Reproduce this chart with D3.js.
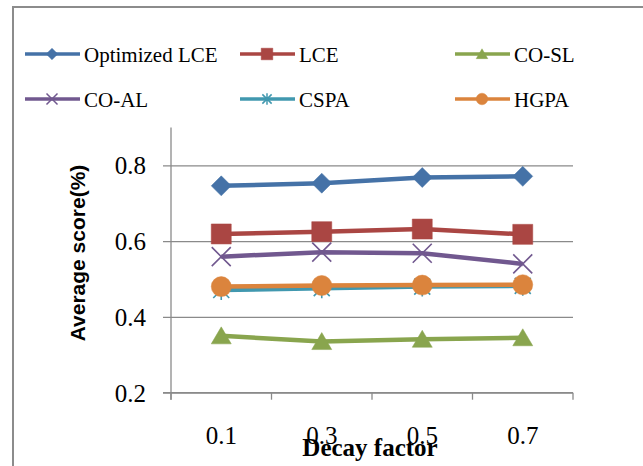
<!DOCTYPE html>
<html>
<head>
<meta charset="utf-8">
<script src="https://cdn.jsdelivr.net/npm/d3@7"></script>
<style>
  html, body { margin: 0; padding: 0; background: #fff; }
  svg { display: block; }
</style>
</head>
<body>
<svg id="chart" width="643" height="466"></svg>
<script>
// Decay factor categories and average score per method
const categories = ["0.1", "0.3", "0.5", "0.7"];
const optimizedLCE = [0.746, 0.753, 0.768, 0.771];
const lce = [0.619, 0.625, 0.632, 0.618];
const coSL = [0.350, 0.335, 0.341, 0.345];
const coAL = [0.559, 0.571, 0.568, 0.540];
const cspa = [0.471, 0.476, 0.480, 0.482];
const hgpa = [0.480, 0.483, 0.484, 0.485];
const yTicks = [0.2, 0.4, 0.6, 0.8];

const series = [
  { name: "Optimized LCE", values: optimizedLCE, color: "#4572A7", marker: "diamond" },
  { name: "LCE", values: lce, color: "#AA4643", marker: "square" },
  { name: "CO-SL", values: coSL, color: "#89A54E", marker: "triangle" },
  { name: "CO-AL", values: coAL, color: "#71588F", marker: "x" },
  { name: "CSPA", values: cspa, color: "#4198AF", marker: "asterisk" },
  { name: "HGPA", values: hgpa, color: "#DB843D", marker: "circle" }
];

const svg = d3.select("#chart");
const gridColor = "#8a8a8a";

// frame of the chart area
svg.append("path")
  .attr("d", "M13,466 L13,7 L643,7")
  .attr("fill", "none")
  .attr("stroke", "#8c8c8c")
  .attr("stroke-width", 2);

const plot = { left: 171, right: 573, top: 127.5, bottom: 392.7 };

const x = d3.scaleBand().domain(categories).range([plot.left, plot.right]).padding(0);
const y = d3.scaleLinear().domain([0.2, 0.9]).range([plot.bottom, plot.top]);
const cx = d => x(d) + x.bandwidth() / 2;

// horizontal gridlines + y axis
const yAxis = d3.axisLeft(y).tickValues(yTicks).tickFormat(d3.format(".1f"))
  .tickSize(-(plot.right - plot.left)).tickSizeOuter(0).tickPadding(25);
const gy = svg.append("g").attr("transform", `translate(${plot.left},0)`).call(yAxis);
gy.select(".domain").remove();
gy.selectAll(".tick line")
  .attr("x1", -8)
  .attr("stroke", gridColor).attr("stroke-width", 1.3);
gy.selectAll(".tick text")
  .attr("font-family", "'Liberation Serif', 'Times New Roman', serif")
  .attr("font-size", 25).attr("fill", "#000").attr("dy", "0.34em");

// vertical axis line
svg.append("line")
  .attr("x1", plot.left).attr("x2", plot.left)
  .attr("y1", y(0.9)).attr("y2", y(0.2) + 7)
  .attr("stroke", gridColor).attr("stroke-width", 1.3);

// x axis: labels centered in each band, ticks on band edges
const xAxis = d3.axisBottom(x).tickSize(0).tickSizeOuter(0).tickPadding(34);
const gx = svg.append("g").attr("transform", `translate(0,${plot.bottom})`).call(xAxis);
gx.select(".domain").remove();
gx.selectAll(".tick text")
  .attr("font-family", "'Liberation Serif', 'Times New Roman', serif")
  .attr("font-size", 25).attr("fill", "#000");

svg.append("line")
  .attr("x1", plot.left - 8).attr("x2", plot.right)
  .attr("y1", plot.bottom).attr("y2", plot.bottom)
  .attr("stroke", gridColor).attr("stroke-width", 1.3);

const edges = categories.map(d => x(d)).concat([x.range()[1]]);
svg.append("g").selectAll("line").data(edges).join("line")
  .attr("x1", d => d).attr("x2", d => d)
  .attr("y1", plot.bottom).attr("y2", plot.bottom + 7)
  .attr("stroke", gridColor).attr("stroke-width", 1.3);

// axis titles
svg.append("text")
  .attr("transform", `translate(85,${(163 + 343) / 2}) rotate(-90)`)
  .attr("text-anchor", "middle")
  .attr("font-family", "'Liberation Sans', Arial, sans-serif")
  .attr("font-weight", "bold").attr("font-size", 21)
  .text("Average score(%)");

svg.append("text")
  .attr("x", 370).attr("y", 456)
  .attr("text-anchor", "middle")
  .attr("font-family", "'Liberation Serif', 'Times New Roman', serif")
  .attr("font-weight", "bold").attr("font-size", 25)
  .text("Decay factor");

// marker shapes
function markerPath(type) {
  switch (type) {
    case "diamond": return "M0,-10 L10,0 L0,10 L-10,0 Z";
    case "square": return "M-10,-10 H10 V10 H-10 Z";
    case "triangle": return "M0,-9 L10,8 L-10,8 Z";
    case "circle": return "M10,0 A10,10 0 1,1 -10,0 A10,10 0 1,1 10,0 Z";
    case "x": return "M-9.5,-9.5 L9.5,9.5 M-9.5,9.5 L9.5,-9.5";
    case "asterisk": return "M-8,-8 L8,8 M-8,8 L8,-8 M0,-10 V10";
  }
}
function drawMarker(g, type, color, strokeScale) {
  const open = type === "x" || type === "asterisk";
  g.append("path")
    .attr("d", markerPath(type))
    .attr("fill", open ? "none" : color)
    .attr("stroke", color)
    .attr("stroke-width", (open ? 1.6 : 0.5) * (strokeScale || 1))
    .attr("stroke-linejoin", "round");
}

// series lines and markers
const line = d3.line().x((v, i) => cx(categories[i])).y(v => y(v));
series.forEach(s => {
  const g = svg.append("g");
  g.append("path")
    .attr("d", line(s.values))
    .attr("fill", "none")
    .attr("stroke", s.color)
    .attr("stroke-width", 4.5)
    .attr("stroke-linejoin", "round");
  s.values.forEach((v, i) => {
    const m = g.append("g").attr("transform", `translate(${cx(categories[i])},${y(v)})`);
    drawMarker(m, s.marker, s.color);
  });
});

// legend
const legendCols = [25, 240, 455];
const legendRows = [54, 99];
series.forEach((s, i) => {
  const lx = legendCols[i % 3];
  const ly = legendRows[Math.floor(i / 3)];
  const g = svg.append("g").attr("transform", `translate(${lx},${ly})`);
  g.append("line").attr("x1", 0).attr("x2", 55).attr("y1", 0).attr("y2", 0)
    .attr("stroke", s.color).attr("stroke-width", 3.5);
  const m = g.append("g").attr("transform", "translate(27,0) scale(0.58)");
  drawMarker(m, s.marker, s.color, 1.6);
  g.append("text")
    .attr("x", 59).attr("y", 7.5)
    .attr("font-family", "'Liberation Serif', 'Times New Roman', serif")
    .attr("font-size", 21)
    .text(s.name);
});
</script>
</body>
</html>
